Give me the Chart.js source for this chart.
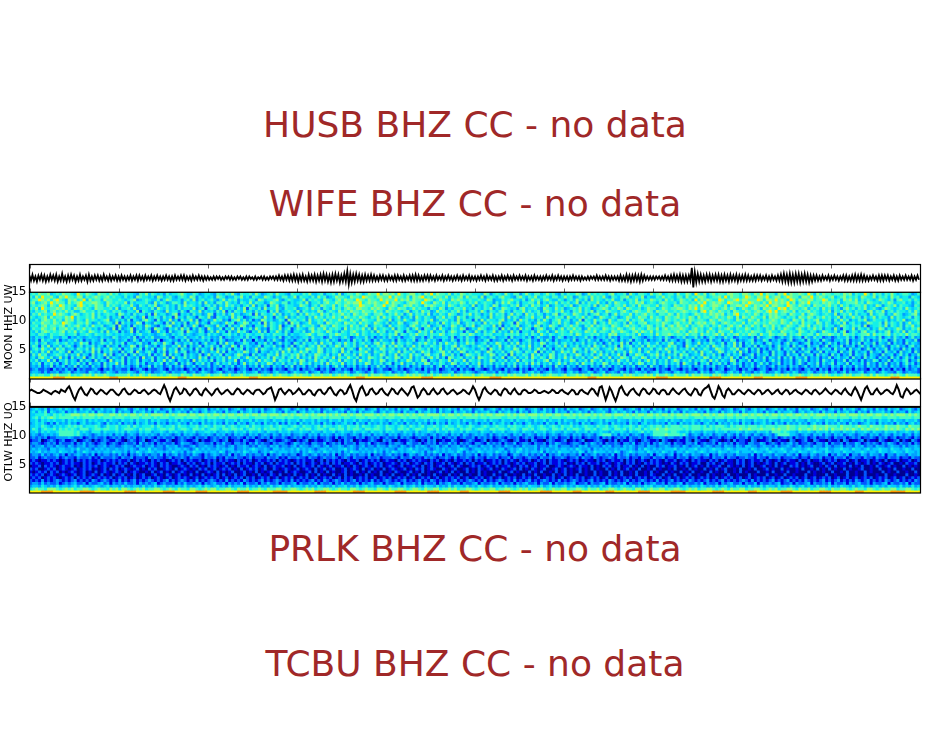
<!DOCTYPE html>
<html>
<head>
<meta charset="utf-8">
<title>Station spectrograms</title>
<script src="https://cdn.jsdelivr.net/npm/chart.js@4/dist/chart.umd.js"></script>
<style>
body { margin: 0; background: #fff; width: 950px; height: 756px; overflow: hidden; position: relative; font-family: "DejaVu Sans"; }
canvas { position: absolute; left: 0; }
.nodata { position: absolute; left: 0; width: 950px; text-align: center; color: #a02828; font-size: 36px; line-height: 42px; }
.station { position: absolute; font-size: 11px; line-height: 12px; width: 100px; text-align: center; transform: rotate(-90deg); color: #000; }
</style>
</head>
<body>
<div class="nodata" style="top:104px">HUSB BHZ CC - no data</div>
<div class="nodata" style="top:183px">WIFE BHZ CC - no data</div>
<div class="nodata" style="top:528px">PRLK BHZ CC - no data</div>
<div class="nodata" style="top:643px">TCBU BHZ CC - no data</div>
<canvas id="moonWave" width="950" height="48" style="top:255px"></canvas>
<canvas id="otlwWave" width="950" height="48" style="top:369px"></canvas>
<canvas id="moonSpec" width="950" height="110" style="top:280px"></canvas>
<canvas id="otlwSpec" width="950" height="109" style="top:395px"></canvas>
<div class="station" style="left:-41px;top:321px">MOON HHZ UW</div>
<div class="station" style="left:-41px;top:436px">OTLW HHZ UO</div>
<script>
// x ticks, one every 89px along the trace
const xTicks = [0, 1, 2, 3, 4, 5, 6, 7, 8, 9];
const freqTicks = [5, 10, 15];

// trace samples, 60 per x tick on MOON, 45 on OTLW
const moonTrace = [
3,-3,4,-3,2,-4,3,-2,4,-3,3,-4,2,-3,4,-2,3,-3,4,-4,2,-3,5,-3,2,-4,3,-3,4,-2,3,-4,2,-3,4,-3,2,-2,3,-4,4,-3,2,-3,3,-2,3,-3,2,-3,4,-2,2,-3,3,-3,2,-2,3,-3,
2,-3,3,-2,2,-3,2,-2,3,-3,2,-2,3,-3,3,-2,2,-3,3,-2,2,-2,3,-3,2,-2,3,-2,2,-3,2,-2,3,-2,2,-3,2,-3,3,-2,2,-2,3,-2,3,-3,2,-2,2,-3,3,-2,2,-2,3,-2,2,-3,2,-2,
2,-2,1,-2,2,-2,2,-1,2,-2,1,-2,2,-1,2,-2,2,-2,1,-2,2,-1,2,-2,1,-2,2,-2,2,-1,1,-2,2,-2,1,-1,2,-2,2,-2,1,-2,2,-1,2,-2,2,-2,3,-2,2,-3,3,-2,3,-3,3,-3,4,-3,
3,-4,3,-3,4,-3,2,-4,4,-3,3,-3,4,-4,3,-3,4,-4,5,-3,4,-4,3,-5,4,-4,5,-3,4,-5,3,-4,5,-4,8,-7,5,-5,4,-4,5,-3,4,-4,3,-4,4,-3,3,-3,4,-3,3,-3,2,-3,3,-2,3,-3,
2,-3,3,-2,2,-3,3,-3,3,-2,2,-3,3,-3,2,-2,3,-3,3,-3,4,-3,3,-3,2,-3,3,-2,3,-3,3,-2,2,-3,3,-2,2,-2,3,-3,2,-2,3,-2,2,-3,2,-2,3,-2,2,-3,3,-2,2,-2,3,-3,2,-2,
2,-3,2,-2,3,-2,2,-3,3,-2,2,-2,3,-3,2,-3,2,-2,3,-3,2,-2,3,-2,2,-3,3,-2,2,-2,3,-2,2,-2,3,-3,2,-2,2,-3,3,-2,2,-2,2,-3,2,-2,3,-2,2,-2,3,-3,2,-2,3,-2,2,-3,
2,-2,2,-3,2,-2,3,-2,2,-2,2,-3,2,-2,1,-2,2,-2,2,-1,2,-2,3,-2,2,-2,2,-2,3,-2,2,-3,2,-2,2,-2,2,-3,3,-3,2,-3,4,-3,3,-4,3,-3,4,-3,3,-4,4,-3,3,-2,2,-2,2,-2,
2,-2,2,-1,2,-2,2,-2,3,-2,2,-3,3,-3,4,-3,3,-3,4,-4,3,-4,3,-4,3,-3,12,-11,7,-5,5,-4,4,-4,3,-4,4,-3,4,-4,3,-3,4,-3,4,-4,3,-4,4,-3,3,-4,4,-3,3,-3,4,-4,3,-3,
3,-3,4,-3,3,-3,2,-3,3,-3,3,-2,3,-3,2,-2,3,-3,2,-3,3,-2,2,-3,3,-3,4,-4,5,-4,4,-5,5,-5,4,-5,5,-4,5,-5,4,-4,5,-4,4,-5,3,-4,3,-3,3,-3,2,-3,3,-2,2,-2,3,-3,
2,-2,3,-2,2,-3,2,-2,3,-3,3,-3,2,-3,3,-3,4,-3,3,-3,4,-3,3,-3,2,-3,2,-2,3,-2,2,-3,3,-3,3,-3,3,-2,3,-3,2,-2,3,-3,2,-3,3,-2,2,-2,3,-2,2,-2,3,-3,2,-2,3,-2
];
const otlwTrace = [
1,2,1,0,-1,-1,0,2,1,0,-1,-2,0,1,0,-1,2,1,0,3,5,1,-4,-7,-2,2,4,1,-2,-3,0,3,2,-1,-2,0,2,1,-1,-2,0,2,2,0,-2,
-3,-1,2,3,0,-2,-2,0,2,1,-1,-1,1,2,0,-2,-1,1,2,1,-1,-2,2,6,2,-4,-8,-3,2,4,1,-2,-1,3,2,-1,-3,-1,2,3,1,-2,-3,1,3,
1,-1,-3,-1,2,3,0,-2,-1,1,2,0,-2,-2,1,3,2,-1,-2,0,2,1,-1,-2,1,2,2,0,-2,-1,2,3,4,-1,-7,-3,2,3,0,-2,0,2,1,-2,-1,
1,3,1,-2,-2,0,2,1,-2,-3,0,2,2,-1,-2,0,3,4,1,-2,-3,0,2,1,-2,-1,3,6,1,-5,-8,-2,3,5,1,-3,-2,2,3,0,-2,-1,2,3,0,
-2,-3,0,3,2,-1,-2,1,3,1,-1,-3,0,4,5,0,-5,-3,1,3,1,-2,-2,1,3,0,-2,-1,2,3,0,-2,-1,1,2,0,-2,-1,0,2,1,-1,-2,
1,5,2,-3,-7,-3,2,4,1,-1,-2,0,2,1,-2,-3,1,3,2,-1,-2,1,3,0,-2,-2,1,2,1,-1,-1,0,2,1,-1,-1,0,1,0,-1,0,2,1,-1,-1,
1,2,0,-1,-2,0,2,1,-2,-2,1,2,0,-1,-2,1,3,2,-1,-3,4,5,-1,-7,-2,4,1,-4,-8,-3,3,5,1,-2,-3,0,2,3,0,-2,-3,1,3,2,-1,
-2,0,3,2,-1,-2,1,2,1,-2,-2,1,3,1,-1,-2,0,2,3,0,-2,-3,0,3,2,-2,-3,1,3,4,6,1,-4,-6,-1,5,2,-3,-5,1,3,1,-2,-2,
0,2,1,-1,-2,0,2,1,-1,-2,0,2,1,-2,-1,1,2,0,-2,-1,1,2,-1,-2,0,2,1,-2,-1,1,2,0,-1,-2,0,2,1,-1,-2,1,2,0,-2,-1,
1,3,1,-1,-2,0,2,1,-1,-2,1,3,0,-2,-3,1,4,1,-3,-7,-2,3,5,1,-2,-2,1,3,0,-2,-1,1,2,1,-1,-2,1,6,2,-4,-5,0,3,1,-2,-1,1,2,0,-2,-1,2,1
];

// jet colours for spectrogram levels 0 to 9
const levelColors = ['#00008f', '#0000e0', '#0058ff', '#00a0ff', '#00ccff', '#14f0e8', '#48fcc0', '#8cff80', '#ffee00', '#ff9a00'];

// spectrogram levels: each row is one 0.5 Hz bin from 15 Hz down to 0, 30 cells per x tick
const moonRows = [
'565766745657665486576547665756 456554365746545364556754465345 543654657436556475345647554365 546574456355647356657645766857 767586567756476857665746576565 554763565475466357546645756436 465576347565654674556375466547 567456647557648657467566577665 776576857664768576676586475766 566576746558647564657545665346',
'647586675476866577465676567565 546453765545376456435654763545 453765344657453654476535466457 365546475634576654766587665776 685766574767856576657465674756 647356546755436754657456546645 756346564756574365466745657354 465756546647565776456675857665 687657768567756876647768567656 745675656476557465647564553654',
'566876757865476756847566476655 654567345654463576445356473564 564357465635446537645567435654 457365654765467576658765766586 766857675766587645765476765565 565476344656755463575646754465 356475463756546574463565746557 656475645765648576765587566786 776668757768676587576677566875 656476757465654576546367556465',
'674567586766475678566776547656 557364555643746534665374554637 453664754536547465534765466354 564735564675576567677856767656 857665467765865476574656576465 745655364757546355664735465746 564573646557453647655465767456 546765564766565768567676587665 768766575867676857467685665767 657456667564765546576455645356',
'565676476587565478656576647565 465574365465734564536475654535 646354756453564735462657346554 476535647655746576566876657668 567645767565476765564765465547 354654763554657356475645734654 657346556473657546657456475665 574665476565767586567765746677 686576768577665876576564766567 564756456657454763565746554365',
'657486566767564767565476655647 355647345546375464536455473562 565374545364726546374557436556 345647563654756467657766576765 476576645756553654763546657453 654657354765453674556437654756 345657465345676465764765564576 645765667765768576657656757645 765676476765878576656746564756 465367564657456435765456475456',
'546567467565756446755646575465 643554726543654374553642654735 453647253654745364552647345654 736545476356547565766576657564 765654673564756347565465746355 647536546745365574645636754657 453657465736547655467546765576 476675565676566478576576564765 576567657868567657465675654657 365746546553674657356465546475',
'465756558676546764565746456553 764536455362745534672545364534 762546357453456273654574635465 364756547564656756476567546675 465756357465647354654765346574 653547465635746537564653546735 654765463567456357465574656756 546657647565457656576767465785 656576465767566476557467654565 473565746455374566354765345674',
'654567475665768465565746546354 625465347254653645274536542654 732654537465234565374526547354 655364756465756476565765465747 564573546375465436574653756354 664537455637465346574563754656 375465746534765465345764576647 565476567565764756656756576474 765765574767654656476576465756 457364575636457465537465456365',
'546467657564767465475654567346 453625436754263547352645736245 347563425674635243764534652756 456374565746557654756476554765 473564754365465734656453746552 637465546735463756453647535674 563547265475643754665746567456 576476565674765665476576565476 547657465676576547657465674556 364756354657346554635465734565',
'465576657658765466575346456537 264534762543654263745362547354 265434756245763546273654536275 634574465376565476564756547654 635476345674563546375465734656 453746557345627546534765436574 653475656473564756546375466745 565765467565746767567546765655 746576565766576575647565476465 356473564534765563746546357456',
'556467566567465675464755634562 743526453764325467345263475236 543745263547634255473654724563 746556437654765564756457346564 374565436754657345635476453657 346554736254657345647635476534 657564365746565476546756546576 465746757657465675646575467567 465756476575645765467574656465 534765465637245564736546365745',
'465576567466756465756453564372 634572453642765325463746253642 753462547362546375342654735624 654367465746565374656574637456 547365463574265463754365476235 476534652746353746524675346357 465756347565476565764567565476 574675666765467564575465675465 576456546574657654675465756355 374265473654635476354576354657',
'546467656567465746547654637456 253472634562374526345627543652 463745263475632547362547536425 546347565476453654675465463756 354765265437564735463576452643 753645736453746255463754634756 547565476574665476576546757657 465666567564767564756476557456 565766546755476565476546534765 463572465367456354673564736546',
'554665465566455635565465546545 454453564454345643545635434553 645435564535465455645465546354 455675466546576554657465455465 465736546575564655764565466576 454656455465656456465475465456 556476455656454767455656474556 475667656657566475656757465675 657664755765667465675566475667 656476564566747565674656575665',
'435453464435524354345443544365 344536243546334453254463445364 534362453445363542634453624534 345536445236443564235446352435 364352445633524634455362453644 235435634452634453524643352465 243534463524453634254436543245 345364235463446352465343645235 443526345642353463452643645234 235446352463445362453643524634',
'435264543624354635243543625435 345236425344261345342536243453 524364233452634153425364325342 453625435463542435264536425364 435264354624536453254364253645 243562434526354245634253642534 453624536435245364253462543524 345263542436524534263452436524 345624365243532462345263452643 244536243463524364523634254362',
'546356345645645347562534654635 462543563425643754264354635246 345263745234653425463524635426 536454637456356475463564536746 547365465346575463647546354756 345635476453647354635476354635 645354635463524635473625463564 463546735426534735465346254736 254635425634524635423562435246 352436253625436254362534263543',
'465264735463564246354635426345 253476253643524633547362534625 463526437526354346255463425362 465356474635476365463547354657 364756354746354654635467365435 465463547356463564735462543564 735463546375463546274563546375 645347563427546354637546354736 245362543524634526354263452362 453624352463525346325463425634',
'356475463756345365463746354754 625463462536254735462643526354 372645362546253473654354635746 354765476354654735642754635476 456354637456546354735463746545 346527546355476354635746352546 354765364756345647563465473546 356475463546473546534765346573 462536242534625463426354263545 263452634523642534625342635243',
'645364735465372546354736254634 263562743564253625473562435264 354736254354763462543546374635 475635476354653746354657436546 365473654634756345674635476354 653476354635746536547263546347 564735463574635463546375463574 463547365463546374563476354637 352436254263542536243562436253 452634625345263452643526345263',
'364756345654635473542635473624 536246354362534726354263543624 735462543576342635436547365465 746354765463547365463754635476 354736547465367456375463524765 463547635462735465374635476354 635476354635746354736254765346 574635463756345473546352463546 234625345263542634526345263542 635243625436254326345246352436',
'453675463473526354724635426354 362543527346254362735463543746 253546374563475463546375463564 735463754654736547546354765463 654763547354635746352764563546 376546354725463546375465376354 746354635476354735476536547635 463547354635463547635463547352 463524362543625362543624352436 245345263426354253426352463524',
'546354736254635426354263542735 462534625436254736425435273645 362546354725346537465473654635 476354746536547365463754635476 354635476354762543654736547365 463547635463547365463546735463 547635463754635463754635463574 635463576354635465374635437625 436254352463524352463524352643 524362534252436524362543562436',
'354625463524635463526345263547 362534635243546253462536425463 524635463524735463547635463546 375463546374654735463547635463 562547354635476354653476354635 473546354635463546374635463574 635463754635476354635463576354 635463546275436254625463524635 243524635243624352463254362534 625436254352634253624352463524',
'343524362435243625342534263524 353423524362534235243624352433 524352435243524352634253425362 435243524352463524352435243635 243524352435243524625342534253 462534253425362534253425342634 253425342534263524352435243526 342352435243524352435234253425 243525342352434253423524352432 534253425342534253425342352435',
'234223214232423142322342132423 322412342132234214232312423142 324213423123421324232142321342 413234213242134232142323142342 213423123423142324123423142321 432124232142321423124232142342 143221342132423124321423214232 142321432132421342314234123421 324312342132423142321342314231 423142314232142314231423142342',
'344324233423452343325434235432 433543245342334532433452342354 323452343243533452343245334235 433523452342343354235432352343 452343523453342534233452343543 234533425342343523453423453343 245342335423452343253423543423 452343245342334253423543245342 533243542335423435423354234352 342352433452344235433254234332',
'565665576766675656767576676556 666756576576656567665766576656 756676575667656667656756766567 676657667667567676566767576676 566765676767656756766757676667 567666756657676667576765676656 756676765766576766657676566767 576676576667576676657676567667 565766766657676756676567667676 565676756676575766567676576665',
'888888889999888888888888888999 888888888888888888889998888888 888888888888889998888888888888 888888888888888888889998888888 888888888888999988888888888888 888889999888888888888888888888 888888889998888888888888888888 899998888888888888899998888888 888899988888888888999988888888 888888888888888888889998888888'
];
const otlwRows = [
'345435243453543425345243534452 345324534253452345243534254345 243534523453245343523453245423 534253452345234532453452345243 534253452354325342534534253452 345234532534253542345325342534 253452345234534253542345325342 534253452345342534523542345234 532453452345342534253452345324 534253453245342534253452345324',
'453546254345243534453525434352 534425345342534425345342534245 345342534425345342534453425345 245345342534453425342534453245 345342534425345342534425345342 534453425345342534245345342534 425345342534453245345342534425 345342534253445342534425345342 534453425342534453245345342534 425345342534253445342534425345',
'445556546565667776767767766776 767677676767777676767776776776 767767677677676776776777677676 776767677767676776767767776767 677677676767767777676776767776 767677677767676776777676776776 776767677676767767776767677677 676776767767677767767677677676 776767767677676776776767677767 676776777676776776767677767676',
'456465676566666565666656566656 665566656665656665566656666565 666566566656665566665656665665 566656665656666566556665666565 666556656665666566556666565666 656656666556665666566566656665 566656665665666656556665665666 566566656666556665665666566566 656665665666566566656665666556 665666566566656665566656666566',
'445354545445354544535454453544 354453544535454435453544354453 545443544535445354454354453544 535445354435445354453544354454 354453544354453545443544535443 544535443544535445435445354453 544354453544535443544354453544 354453544354454354453544354453 544354453544354453544354454354 453544354453544354453544354453',
'345453242534353424534345325343 524342534534253424345342534253 435342534253424534253435242534 253435342534243453425342534353 424534253435342425342534534253 424342534534253424534342534253 435342534234534253434253424534 343425342534353424534253435342 534243453425342534353424534253 435342534234534253434253424534',
'445465435454565656455565346556 455646545556465455646554556456 546556456545564655455645655456 546554564655456546556465545654 655456546545645565456554654565 445654565546565545654565456546 556454565546556456545565465456 566465666566566656465666546566 656665656665666766566656766676 665766656766576665766676657666',
'465356556465656546664566566556 456665465665456656645665466564 566546656656456656465665645665 465664566546656646566546656654 665466564566546656465665465664 566546656654665466564566546656 465665466564566546656465664656 676676666656566656665656666667 667666766676766766576676767675 766767676576766766767676576767',
'445354544566666564543555354445 453544354553445435454354453445 545344543544535445435443544534 454435443544534544354454354453 545443544353445435445354453544 435443544534454354435445345443 544354453544544354454354456454 666665665445354435443544534454 354435445366656544354454354453 544354453445435443544534454354',
'343234343466666564343234343424 342343243434324343234243432343 432434232434324342343243243423 343243424343243432343243424343 243423434243432342343243424323 434324234343243423432434234323 432434234324566634243423432434 666676666564234324342343243242 343243234324666644323432434243 243423432343243423432434234243',
'232323122333343223123232231232 312323123232132322312323213223 123232312232132312323132232123 231232312232131232213231232312 322313232123223132312323123223 132323123213223123231223132312 231323123223132312323132232312 334323322313223132312231232132 231322312323123231322312312232 132231232312232132312312232132',
'122301232123112301232021232113 210232123012321132012321123021 123212301221321132102321123210 212301211232102132301211232103 231021123210213230121132101232 112302112321023112032110232112 301212301123210213021132102321 120321012113203211023210120312 210320112301211032012310321102 112032011230211032101230210321',
'233212323132223132423212331232 123223142323132322312433212332 231324221332313242322132332124 323213322412323132231332412322 132332143223123231322423132321 332142323132241233213223132432 212332132432313223213324123231 324323132213324123223142323132 213322431232132342312232133241 322313224312323213243213223132',
'323342332433243233423323342332 234332432334233243342322342334 332433234233432324332434233234 243323432342334323432342332433 243324323243432334234233423243 324334233243323243334233243423 332324342333243423324343233243 323343233243233423432332433243 244332343324233432342332433243 233423324342332433234332423343',
'343433244344334353343243434334 334343244353433234344343235343 433434344233434543343244343343 534343234434334453432434334343 433244345343343234343433454323 443434334423434534334243433434 434354334243434334344343243543 434344453443445344345443454344 443543445344454335443454434453 344544354434534454435443454344',
'434534344354434243543434344354 434243543454344343543424354434 344354234343543442343543444343 424354343543434243544343435342 435434344543424354343443542434 354344354342435434344352434354 443435424354443435423454344354 343543424435443454344354434453 444354434543445344354434544354 344354434454344354434544354434',
'233242323423132343232413233232 423132342323324132342323243213 234323241323423233241323423233 124323423232413234232332413232 342323124323423232413234232332 413234232331243234232324132342 323324132342323241323423233324 134323413243243323413243233243 332413243324332432413324323341 324324133243243324133243324334',
'223123222312322132223121322232 132231222132322123122321322213 223121322322123122213223121322 322132212322321232132221322312 223213223122132321223213122321 322132231223132212322132231223 212231322132122321322312213221 322312213223123212213223132212 232213221322312223212213223122 132231232213221322132231221322',
'121011212101212021212112012121 211201212102121101212021211201 212021211021212012112120212101 212112012021212102112012121201 211021201212110212012102112120 212011212021210211201212021121 012120121102120121120212012102 121021120121021211021201211021 201211202101201211020120112012 120112012011201210201120112012',
'212101121201212110212012121120 212021011212102120112102120121 202112012120211021201202112120 212012102120212011210212012120 112102120121021201120210120212 011201212021012120112012021121 201021202112012101210212010212 121010210212011200212012011021 201201012102012011201021001201 201120102101201021012001021120',
'011202121012112010212120121012 120012112012102121001210212010 212101201021120121020121120102 012112021012011201021012102120 121012011210201201210120210012 120121020112010212012011200121 012102110201021201201120102010 021201120102012010201120021010 201200120102010021201012001021 020110201020010210120100201010',
'212001212012101201212010120212 012101201021200121020121010212 012012120102012120120021012101 201210201201200120121020120102 012101201021201210021012001201 021012010210120201021012001201 201012010201002010201201020010 201001020010201002010201200102 001020012010020100102001020102 010020100120010020010200100200',
'101212021201012101201020121012 102012100102012010201210102001 210201012001201020101200102012 100120201020100120102010201020 010210012010201001201020100201 020100102001201000201020010201 201002010020100201020010200102 010020100201020010020100200102 010002001020010200100020100100 200102001002010002010020010020',
'212120121012101201201210201020 120102012001201021012010201020 101202010201200102010210200102 010201020100201020100102010020 102001020102001020100201020010 020100201020010020102001002010 201020010020100201020010200102 100201020010200100201001020010 002010002001002001000200100020 010002001002000100200100020010',
'121201212101212021212012121201 212012012120121012012121012012 121201201212021201212012012120 121201201212012021201212012012 120121201201212012012121201201 212012012012120121201201212012 012121201212012012012120121201 212012012012120121201201212012 012012120120120121201201201212 012012012012120121201201201212',
'212131212321212312121321232121 312123121232121231212321213121 232121312121321212312123212131 212123121321232121231212131212 321212312123121321212123121232 121312123212131212312123212131 212321212312121321212312123212 131212312121321212312123121212 321312121231212312121321212312 123121213212312121321231212132',
'233242322312323422313223423132 324223132323412322313242232313 234223132324132231324223132234 132232413223132423223132342231 322341322324132231323422313223 413223241322313234223132241322 323412231322341322324132231323 422313223413223241322313234223 132241322323412231322341322324 132231323422313223413223241322',
'344354343534434535343454345344 353434435343534534344353434535 434534353444353435343534543534 443534354343534453435345343544 354343534534354435343535443534 354345344353435343544353453434 534354435343534534354435343545 344353435345344354343534534354 435343535443534354345344353435 343544353453434534354435343534',
'567665777656767566776567665767 577656767566776567657665776567 677566776576675667657667756677 656767566776567665776567665776 576677656776576677566767566776 567667756677656767566776567667 756677657667566776567665776567 667756677656767566776567657667 756677656767566776576675667765 766776567665776567667756677656',
'888899998888888889999988888888 889999888888888999988888889999 888888888899998888888899999888 888888999988888888899998888888 888999988888889999888888899988 888888889999888888888899998888 888999888888889998888888899998 888888999998888888889999888888 889998888888899998888888889999 888888889998888888889999988888'
];

function frameAndTicks(showTicks) {
  return {
    id: 'frameAndTicks',
    afterDraw(chart) {
      const { ctx, chartArea: a, scales } = chart;
      ctx.save();
      if (showTicks) {
        ctx.strokeStyle = '#666';
        ctx.lineWidth = 1;
        xTicks.forEach(t => {
          const x = Math.round(scales.x.getPixelForValue(t)) + 0.5;
          ctx.beginPath();
          ctx.moveTo(x, a.top);
          ctx.lineTo(x, a.top + 4);
          ctx.moveTo(x, a.bottom);
          ctx.lineTo(x, a.bottom - 4);
          ctx.stroke();
        });
      }
      ctx.strokeStyle = '#000';
      ctx.lineWidth = 1.2;
      ctx.strokeRect(a.left, a.top, a.right - a.left, a.bottom - a.top);
      ctx.restore();
    }
  };
}

function makeTrace(id, samples, perTick, lineWidth, yMin, yMax) {
  const points = samples.map((v, i) => ({ x: i / perTick, y: v }));
  new Chart(document.getElementById(id), {
    type: 'line',
    data: { datasets: [{ data: points, borderColor: '#000', borderWidth: lineWidth, pointRadius: 0, tension: 0 }] },
    options: {
      responsive: false,
      animation: false,
      devicePixelRatio: 1,
      layout: { padding: { left: 29.5, right: 29.5, top: 9.5, bottom: 10.5 } },
      plugins: { legend: { display: false }, tooltip: { enabled: false } },
      scales: {
        x: { type: 'linear', display: false, min: 0, max: 10 },
        y: { display: false, min: yMin, max: yMax }
      }
    },
    plugins: [frameAndTicks(true)]
  });
}

function makeSpec(id, rows) {
  const cells = rows.map(r => r.replace(/ /g, '').split('').map(Number));
  const labels = cells[0].map((_, i) => i);
  const datasets = cells.map((row, t) => ({
    data: labels.map(() => [15 - (t + 1) * 0.5, 15 - t * 0.5]),
    backgroundColor: labels.map(i => levelColors[row[i] === undefined ? 4 : row[i]]),
    borderWidth: 0,
    barPercentage: 1,
    categoryPercentage: 1
  }));
  new Chart(document.getElementById(id), {
    type: 'bar',
    data: { labels, datasets },
    options: {
      responsive: false,
      animation: false,
      devicePixelRatio: 1,
      layout: { padding: { right: 29.5, top: 12.3, bottom: 11 } },
      plugins: { legend: { display: false }, tooltip: { enabled: false } },
      scales: {
        x: { display: false, stacked: true },
        y: {
          min: 0,
          max: 15,
          afterFit(scale) { scale.width = 29.5; },
          afterBuildTicks(scale) { scale.ticks = freqTicks.map(v => ({ value: v })); },
          grid: { display: false, drawTicks: false },
          border: { display: false },
          ticks: { color: '#000', padding: 3, font: { family: 'DejaVu Sans', size: 12 } }
        }
      }
    },
    plugins: [frameAndTicks(false)]
  });
}

makeTrace('moonWave', moonTrace, 60, 1.8, -17, 16);
makeTrace('otlwWave', otlwTrace, 45, 2, -13, 12);
makeSpec('moonSpec', moonRows);
makeSpec('otlwSpec', otlwRows);
</script>
</body>
</html>
